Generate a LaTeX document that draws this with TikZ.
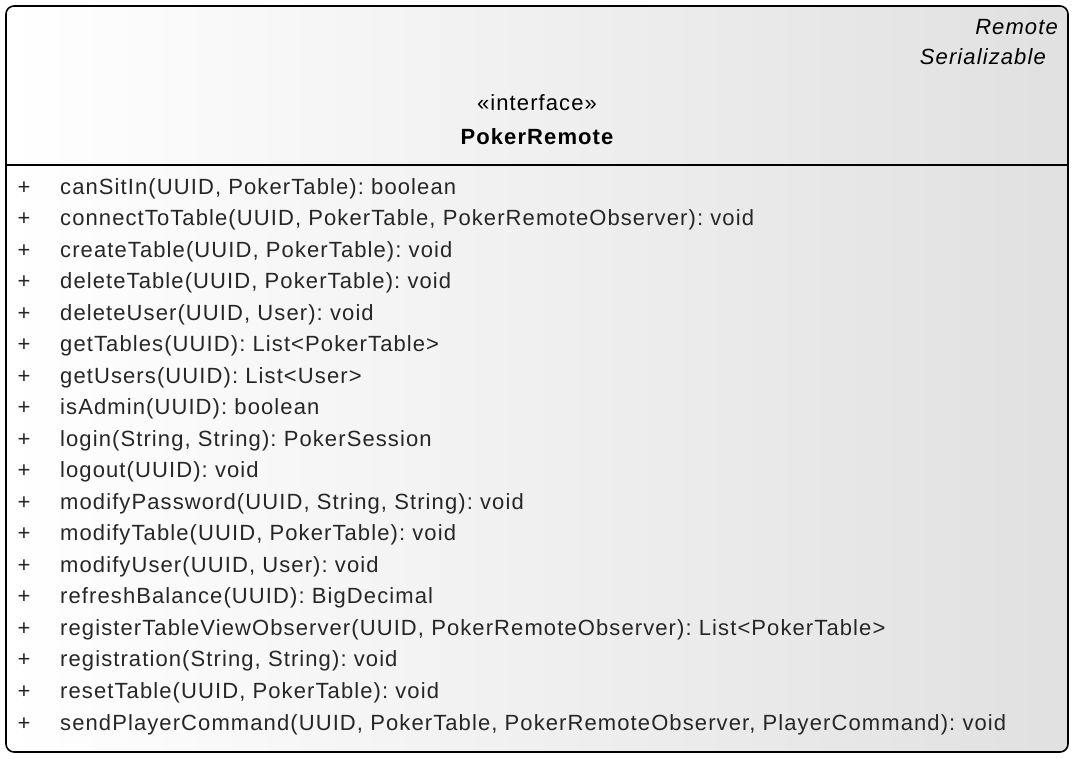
\documentclass[tikz,border=0pt]{standalone}
\usepackage{fontspec}
\setmainfont{Liberation Sans}[LetterSpace=5]
\usetikzlibrary{positioning}
\newcommand{\rowgap}{31.53}
\frenchspacing

\begin{document}
\begin{tikzpicture}[x=1pt,y=-1pt,
    member/.style={anchor=base west, inner sep=0pt, font=\fontsize{22}{25}\selectfont, text=black!85},
    plus/.style={anchor=base, inner sep=0pt, font=\fontsize{22}{25}\selectfont, text=black!85},
    header/.style={inner sep=0pt, font=\fontsize{22}{25}\selectfont}]
        \useasboundingbox (0,0) rectangle (1074,758);
        % class box
        \shade[left color=white, right color=black!12, rounded corners=8pt]
                (6,6) rectangle (1068,752);
        \draw[line width=1.6pt, rounded corners=8pt] (6,6) rectangle (1068,752);
        \draw[line width=1.4pt] (6,165) -- (1068,165);

        % header
        \node (rem) at (1058,34) [header, anchor=base east] {\itshape Remote};
        \node (ser) at (1046,64) [header, anchor=base east] {\itshape Serializable};
        \node (st) at (537,110) [header, anchor=base] {«interface»};
        \node (nm) at (537,144) [header, anchor=base] {\bfseries PokerRemote};

        % operations
        \foreach \m [count=\i] in {
                {canSitIn(UUID, PokerTable): boolean},
                {connectToTable(UUID, PokerTable, PokerRemoteObserver): void},
                {createTable(UUID, PokerTable): void},
                {deleteTable(UUID, PokerTable): void},
                {deleteUser(UUID, User): void},
                {getTables(UUID): List<PokerTable>},
                {getUsers(UUID): List<User>},
                {isAdmin(UUID): boolean},
                {login(String, String): PokerSession},
                {logout(UUID): void},
                {modifyPassword(UUID, String, String): void},
                {modifyTable(UUID, PokerTable): void},
                {modifyUser(UUID, User): void},
                {refreshBalance(UUID): BigDecimal},
                {registerTableViewObserver(UUID, PokerRemoteObserver): List<PokerTable>},
                {registration(String, String): void},
                {resetTable(UUID, PokerTable): void},
                {sendPlayerCommand(UUID, PokerTable, PokerRemoteObserver, PlayerCommand): void}}
                 {
                   \node (p\i) at (24,194+\rowgap*\i-\rowgap) [plus] {+};
                   \node (m\i) at (60,194+\rowgap*\i-\rowgap) [member] {\m};
                 }
      \end{tikzpicture}
\end{document}
